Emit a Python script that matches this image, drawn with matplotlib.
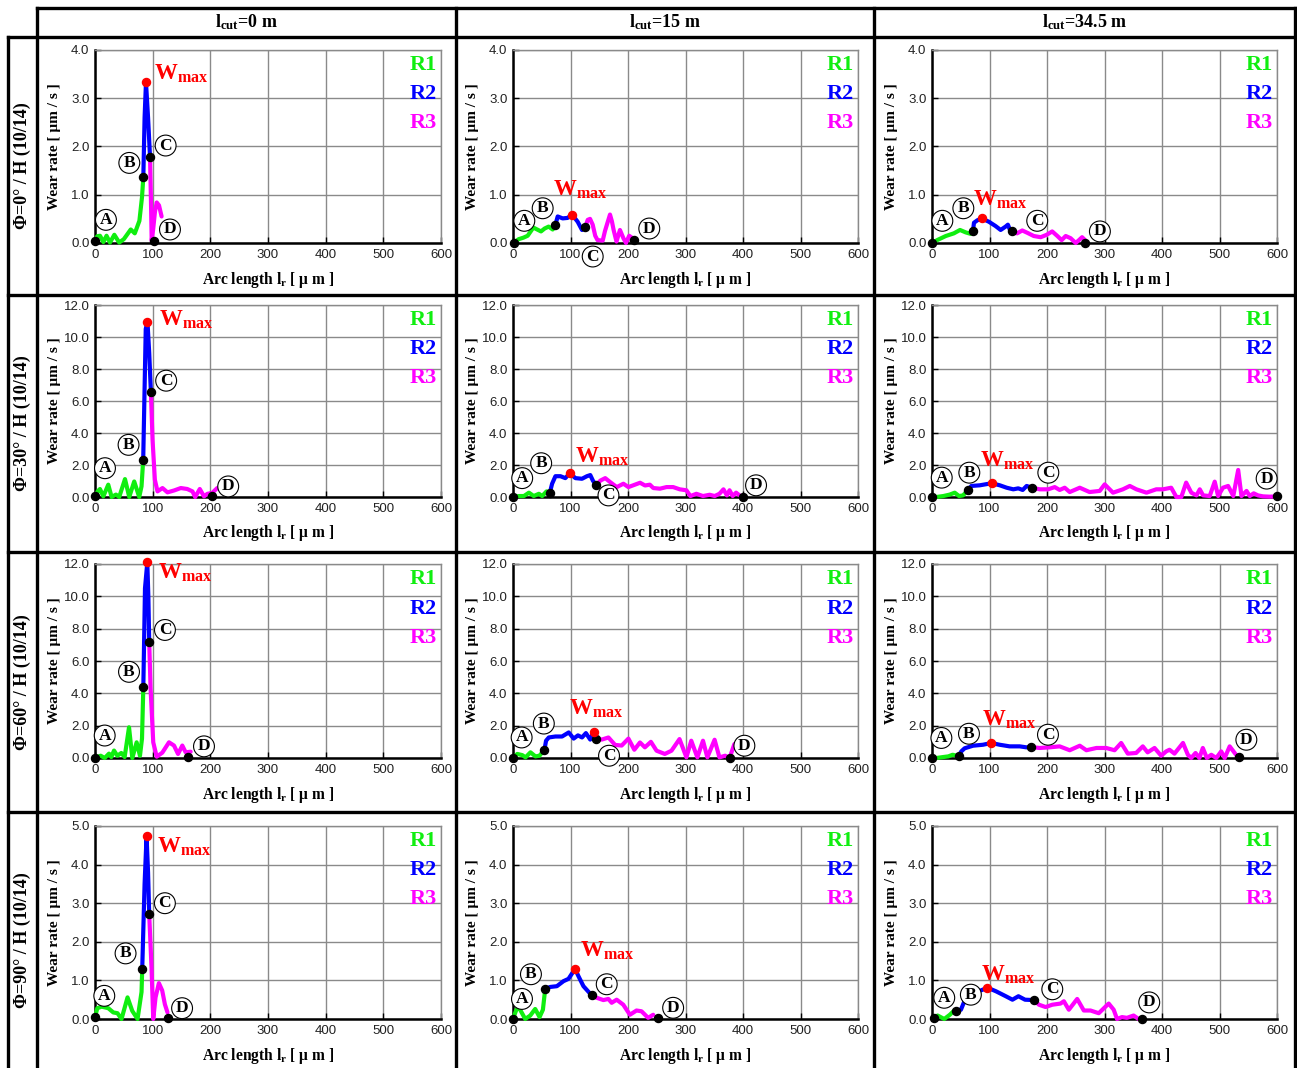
import matplotlib
matplotlib.use("Agg")
import matplotlib.pyplot as plt

plt.rcParams["font.family"] = "Liberation Sans"
plt.rcParams["mathtext.fontset"] = "custom"
plt.rcParams["mathtext.bf"] = "Liberation Serif:bold"
plt.rcParams["mathtext.rm"] = "Liberation Serif"
plt.rcParams["mathtext.it"] = "Liberation Serif:italic"

SERIF = "Liberation Serif"
GREEN = "#10ee10"
BLUE = "#0000ff"
MAGENTA = "#ff00ff"
RED = "#ff0000"
GRID = "#8a8a8a"

PHI_LABELS = ["Φ=0° / H (10/14)", "Φ=30° / H (10/14)",
              "Φ=60° / H (10/14)", "Φ=90° / H (10/14)"]
LCUT_LABELS = [r"l$_{\mathbf{cut}}$=0 m", r"l$_{\mathbf{cut}}$=15 m",
               r"l$_{\mathbf{cut}}$=34.5 m"]
Y_MAX = [4.0, 12.0, 12.0, 5.0]
Y_STEP = [1.0, 2.0, 2.0, 1.0]
X_TICKS = [0, 100, 200, 300, 400, 500, 600]

# wear rate curves (arc length um, wear rate um/s), split into regions R1/R2/R3
# --- phi = 0 deg ---
phi0_lc0_r1 = [(0, 0.05), (4, 0.14), (8.7, 0.15), (14.5, 0.02), (20, 0.15), (26, 0.01),
               (33.5, 0.17), (42, 0.01), (50, 0.08), (62, 0.28), (69, 0.2), (77, 0.46),
               (81.5, 0.95), (83.8, 1.36)]
phi0_lc0_r2 = [(83.8, 1.36), (86, 2.6), (88.4, 3.33), (92, 2.6), (95.4, 1.79)]
phi0_lc0_r3 = [(95.4, 1.79), (97, 0.9), (98.3, 0.05), (101, 0.3), (104, 0.65), (107, 0.84),
               (111, 0.78), (115.5, 0.55)]
phi0_lc0_d = (102, 0.04)

phi0_lc15_r1 = [(2, 0.01), (10, 0.08), (18, 0.11), (25.5, 0.15), (35.4, 0.32), (42, 0.28),
                (48.7, 0.24), (55, 0.3), (62, 0.34), (69, 0.28), (73.6, 0.37)]
phi0_lc15_r2 = [(73.6, 0.37), (77.7, 0.55), (86.4, 0.51), (95, 0.52), (102.6, 0.59),
                (112.5, 0.44), (120, 0.27), (125.8, 0.34)]
phi0_lc15_r3 = [(125.8, 0.34), (130, 0.48), (134, 0.5), (138.6, 0.38), (143, 0.15),
                (147, 0.06), (156, 0.05), (160, 0.25), (168.7, 0.59), (172, 0.45),
                (175, 0.27), (180, 0.03), (186, 0.27), (192, 0.1), (196.5, 0.0),
                (202, 0.15), (208, 0.1)]
phi0_lc15_d = (210, 0.06)

phi0_lc345_r1 = [(0.5, 0.0), (9, 0.06), (24, 0.145), (38, 0.2), (48.7, 0.27), (58.6, 0.22),
                 (67, 0.19), (71.3, 0.25)]
phi0_lc345_r2 = [(71.3, 0.25), (73, 0.42), (78.8, 0.47), (86.4, 0.51), (99, 0.44),
                 (110.7, 0.35), (119.4, 0.27), (128, 0.34), (132, 0.38), (135.6, 0.27),
                 (138.6, 0.24)]
phi0_lc345_r3 = [(138.6, 0.24), (148, 0.2), (157, 0.26), (166, 0.21), (177, 0.145),
                 (189, 0.12), (199.4, 0.17), (209, 0.24), (218, 0.145), (225.5, 0.06),
                 (232.5, 0.145), (241, 0.1), (250, 0.0), (255.6, 0.06), (261, 0.12),
                 (267, 0.05)]
phi0_lc345_d = (265.5, 0.0)

# --- phi = 30 deg ---
phi30_lc0_r1 = [(0.5, 0.05), (4.5, 0.35), (8.6, 0.5), (14.4, 0.04), (23, 0.77), (28.8, 0.0),
                (36.3, 0.15), (42, 0.0), (52, 1.12), (59.4, 0.0), (68, 0.97), (76.7, 0.0),
                (80.7, 0.67), (83.6, 2.33)]
phi30_lc0_r2 = [(83.6, 2.33), (88, 10.5), (91, 10.95), (94, 9.0), (96.9, 6.59)]
phi30_lc0_r3 = [(96.9, 6.59), (99.8, 3.57), (103.8, 1.08), (108.4, 0.35), (117, 0.56),
                (125.7, 0.29), (137.3, 0.41), (148.8, 0.56), (160, 0.5), (169, 0.35),
                (173.8, 0.0), (181.7, 0.5), (189, 0.04), (195, 0.2), (203, 0.25),
                (212, 0.56)]
phi30_lc0_d = (203.6, 0.04)

phi30_lc15_r1 = [(0, 0.0), (10.4, 0.06), (19, 0.06), (27.7, 0.27), (36, 0.06), (45, 0.2),
                 (50.7, 0.06), (58.3, 0.35), (64, 0.25)]
phi30_lc15_r2 = [(64, 0.25), (68, 0.83), (73.8, 1.3), (82.5, 1.3), (91, 1.18), (99, 1.49),
                 (108.5, 1.18), (120, 1.14), (128.6, 1.3), (134.4, 1.37), (139, 1.02),
                 (144.7, 0.72)]
phi30_lc15_r3 = [(144.7, 0.72), (151.7, 1.02), (160.4, 1.18), (169, 0.93), (180.5, 0.62),
                 (192, 0.83), (200.7, 0.62), (212, 0.77), (221, 0.89), (229.6, 0.72),
                 (238, 0.77), (244, 0.56), (255.5, 0.52), (267, 0.62), (278.5, 0.62),
                 (290, 0.48), (301.6, 0.42), (308.5, 0.06), (318.9, 0.2), (330.4, 0.06),
                 (342, 0.14), (350.7, 0.06), (359, 0.2), (366, 0.48), (372, 0.1),
                 (376.6, 0.42), (382, 0.06), (388, 0.27), (394, 0.1)]
phi30_lc15_d = (399.6, 0.0)

phi30_lc345_r1 = [(0, 0.0), (7.5, 0.0), (19.7, 0.06), (30.8, 0.15), (39.5, 0.27), (47, 0.06),
                  (54, 0.1), (62.6, 0.44)]
phi30_lc345_r2 = [(62.6, 0.44), (68.5, 0.69), (83, 0.73), (103.8, 0.86), (118, 0.73),
                  (129.9, 0.58), (141.4, 0.48), (150, 0.54), (157.7, 0.44), (164.6, 0.69),
                  (174, 0.58)]
phi30_lc345_r3 = [(174, 0.58), (187.3, 0.48), (202, 0.48), (213.4, 0.62), (222, 0.44),
                  (230.8, 0.58), (239.5, 0.31), (257, 0.58), (274, 0.31), (291.7, 0.38),
                  (300.3, 0.79), (314.8, 0.27), (332, 0.48), (344, 0.69), (355.5, 0.48),
                  (373, 0.27), (390, 0.48), (401.6, 0.48), (416, 0.58), (425, 0.0),
                  (433.6, 0.0), (442, 0.9), (451, 0.27), (460, 0.1), (465.7, 0.48),
                  (471.5, 0.1), (483, 0.06), (491.7, 0.96), (497.6, 0.06), (506, 0.58),
                  (515, 0.69), (524, 0.06), (532.5, 1.69), (538.2, 0.06), (547, 0.38),
                  (552.6, 0.06), (559.5, 0.23), (567, 0.1), (575.7, 0.04), (587.3, 0.02),
                  (600, 0.04)]
phi30_lc345_d = (600, 0.06)

# --- phi = 60 deg ---
phi60_lc0_r1 = [(0, 0.03), (9.9, 0.14), (16.8, 0.0), (24.3, 0.27), (28.3, 0.06), (33, 0.46),
                (38.7, 0.14), (45.6, 0.31), (51.4, 0.06), (59, 1.9), (64.7, 0.0),
                (72.2, 0.97), (78, 0.14), (81.5, 1.2), (83.8, 4.39)]
phi60_lc0_r2 = [(83.8, 4.39), (86.7, 10.5), (90.7, 12.1), (92.5, 10.0), (94, 7.2)]
phi60_lc0_r3 = [(94, 7.2), (96.4, 4.29), (101, 0.97), (107, 0.08), (116.7, 0.33),
                (128.3, 0.97), (137, 0.77), (144, 0.25), (151.4, 0.77), (157.2, 0.35),
                (165.9, 0.39)]
phi60_lc0_d = (161, 0.04)

phi60_lc15_r1 = [(0, 0.0), (7.4, 0.25), (16, 0.18), (21.8, 0.04), (30.4, 0.35), (39, 0.1),
                 (46, 0.14), (54.7, 0.51)]
phi60_lc15_r2 = [(54.7, 0.51), (57.5, 1.07), (62.3, 1.27), (73.7, 1.33), (85.3, 1.33),
                 (96.9, 1.58), (105.5, 1.2), (113, 1.4), (120, 1.27), (126.8, 1.54),
                 (134.3, 1.14), (140, 1.62), (144.6, 1.2)]
phi60_lc15_r3 = [(144.6, 1.2), (154.5, 1.14), (166, 1.27), (177.5, 0.81), (189, 0.77),
                 (200.7, 1.2), (211, 0.51), (220.8, 0.96), (229.4, 0.66), (239.8, 1.0),
                 (249.7, 0.45), (264, 0.25), (275.6, 0.45), (289.6, 1.17), (301.6, 0.04),
                 (310, 1.07), (320.6, 0.04), (330.4, 1.07), (338, 0.04), (350.6, 1.13),
                 (359, 0.04), (369, 0.14), (376.6, 0.0), (385, 0.86)]
phi60_lc15_d = (376.6, 0.0)

phi60_lc345_r1 = [(0, 0.0), (7.5, 0.0), (19.7, 0.06), (28.4, 0.1), (35.9, 0.2), (42.9, 0.14),
                  (46.4, 0.1)]
phi60_lc345_r2 = [(46.4, 0.1), (51, 0.41), (56.7, 0.6), (71.3, 0.76), (88.7, 0.82),
                  (103.3, 0.93), (117.7, 0.82), (135, 0.72), (152.5, 0.72), (164, 0.66),
                  (171.6, 0.68)]
phi60_lc345_r3 = [(171.6, 0.68), (187.3, 0.62), (204.7, 0.66), (222, 0.72), (239.5, 0.48),
                  (257, 0.76), (268.5, 0.48), (286, 0.62), (303, 0.62), (317.5, 0.48),
                  (329, 0.93), (340.5, 0.27), (355, 0.31), (366.6, 0.72), (375, 0.35),
                  (387, 0.62), (398.6, 0.14), (407.3, 0.41), (413, 0.51), (421.7, 0.27),
                  (436.5, 0.93), (445, 0.2), (450.8, 0.0), (458.3, 0.31), (465, 0.0),
                  (471, 0.62), (478, 0.0), (485.7, 0.2), (494.4, 0.0), (503, 0.41),
                  (509, 0.0), (517.7, 0.72), (526.4, 0.31), (531, 0.1)]
phi60_lc345_d = (533.6, 0.04)

# --- phi = 90 deg ---
phi90_lc0_r1 = [(0, 0.05), (4, 0.28), (11.5, 0.32), (23, 0.28), (31.7, 0.17), (39, 0.15),
                (46, 0.0), (56.4, 0.56), (64.6, 0.21), (73.8, 0.0), (80.7, 0.7),
                (81.9, 1.3)]
phi90_lc0_r2 = [(81.9, 1.3), (86, 3.5), (89.4, 4.73), (92, 3.8), (94, 2.71)]
phi90_lc0_r3 = [(94, 2.71), (98, 1.34), (101, 0.0), (105, 0.56), (110.8, 0.93),
                (116.5, 0.74), (121.2, 0.38), (125.7, 0.17)]
phi90_lc0_d = (126.9, 0.03)

phi90_lc15_r1 = [(0, 0.0), (5.8, 0.24), (9.8, 0.31), (21.3, 0.0), (30, 0.09), (38.6, 0.26),
                 (46.2, 0.05), (52, 0.24), (56, 0.78)]
phi90_lc15_r2 = [(56, 0.78), (64.7, 0.83), (76.3, 0.85), (87.8, 0.98), (96.5, 1.04),
                 (108, 1.3), (113.8, 1.11), (122.5, 0.85), (137, 0.61)]
phi90_lc15_r3 = [(137, 0.61), (145.6, 0.55), (157.2, 0.49), (165.8, 0.52), (171.6, 0.42),
                 (180.3, 0.5), (191.8, 0.37), (203.3, 0.11), (214.8, 0.22), (223.5, 0.2),
                 (235, 0.03), (243.8, 0.11)]
phi90_lc15_d = (251.4, 0.03)

phi90_lc345_r1 = [(4, 0.03), (9.8, 0.09), (21.3, 0.0), (31, 0.11), (38.7, 0.22),
                  (41.6, 0.22)]
phi90_lc345_r2 = [(41.6, 0.22), (50.3, 0.24), (54.4, 0.39), (60.1, 0.59), (70.5, 0.72),
                  (85, 0.74), (96.5, 0.81), (111, 0.72), (128.3, 0.59), (139.9, 0.5),
                  (150.3, 0.59), (161.8, 0.5), (177.4, 0.49)]
phi90_lc345_r3 = [(177.4, 0.49), (186, 0.37), (197.6, 0.31), (209.2, 0.37), (223.5, 0.4),
                  (229.3, 0.46), (238, 0.24), (252.5, 0.52), (264, 0.22), (275.6, 0.22),
                  (290, 0.15), (307.3, 0.4), (316, 0.24), (321.8, 0.0), (330.4, 0.05),
                  (339, 0.03), (350.6, 0.09), (359.3, 0.0)]
phi90_lc345_d = (365, 0.0)

CURVES = [
    [(phi0_lc0_r1, phi0_lc0_r2, phi0_lc0_r3, phi0_lc0_d),
     (phi0_lc15_r1, phi0_lc15_r2, phi0_lc15_r3, phi0_lc15_d),
     (phi0_lc345_r1, phi0_lc345_r2, phi0_lc345_r3, phi0_lc345_d)],
    [(phi30_lc0_r1, phi30_lc0_r2, phi30_lc0_r3, phi30_lc0_d),
     (phi30_lc15_r1, phi30_lc15_r2, phi30_lc15_r3, phi30_lc15_d),
     (phi30_lc345_r1, phi30_lc345_r2, phi30_lc345_r3, phi30_lc345_d)],
    [(phi60_lc0_r1, phi60_lc0_r2, phi60_lc0_r3, phi60_lc0_d),
     (phi60_lc15_r1, phi60_lc15_r2, phi60_lc15_r3, phi60_lc15_d),
     (phi60_lc345_r1, phi60_lc345_r2, phi60_lc345_r3, phi60_lc345_d)],
    [(phi90_lc0_r1, phi90_lc0_r2, phi90_lc0_r3, phi90_lc0_d),
     (phi90_lc15_r1, phi90_lc15_r2, phi90_lc15_r3, phi90_lc15_d),
     (phi90_lc345_r1, phi90_lc345_r2, phi90_lc345_r3, phi90_lc345_d)],
]

# where the circled letters A-D and the W_max tag sit (data coords)
LABEL_POS = [
    [dict(A=(19, 0.48), B=(59.5, 1.66), C=(122.5, 2.02), D=(130, 0.28), W=(102.3, 3.38)),
     dict(A=(19.7, 0.46), B=(51.6, 0.72), C=(138.6, -0.28), D=(237, 0.3), W=(69, 0.98)),
     dict(A=(18, 0.46), B=(54.5, 0.72), C=(183, 0.46), D=(292, 0.24), W=(71.8, 0.77))],
    [dict(A=(17.3, 1.8), B=(58.2, 3.26), C=(123.4, 7.27), D=(231, 0.66), W=(111.3, 10.7)),
     dict(A=(16, 1.18), B=(49, 2.11), C=(166, 0.1), D=(422.7, 0.73), W=(108.5, 2.12)),
     dict(A=(16.9, 1.21), B=(64.9, 1.52), C=(202.3, 1.52), D=(582, 1.15), W=(83.5, 1.89))],
    [dict(A=(16.8, 1.39), B=(59, 5.33), C=(121.3, 7.92), D=(189, 0.72), W=(109, 11.08)),
     dict(A=(15, 1.27), B=(53.6, 2.13), C=(167, 0.14), D=(402.4, 0.76), W=(96.9, 2.66)),
     dict(A=(16.3, 1.24), B=(64.3, 1.5), C=(201.7, 1.44), D=(546.7, 1.13), W=(86.4, 2.01))],
    [dict(A=(16.1, 0.6), B=(53, 1.7), C=(121.2, 3.0), D=(151, 0.28), W=(106.7, 4.3)),
     dict(A=(15.6, 0.52), B=(31.2, 1.16), C=(163, 0.9), D=(278.5, 0.29), W=(116.3, 1.61)),
     dict(A=(21.3, 0.55), B=(67.6, 0.63), C=(209.2, 0.77), D=(377.8, 0.43), W=(85, 1.0))],
]

# page layout in pixels
W_PX, H_PX = 1297, 1068
COL_AX = [(95, 441), (513, 858), (932, 1277)]
ROW_AX = [(50, 243), (305, 497), (564, 758), (826, 1019)]
COL_CENTERS = [246.5, 665, 1084.5]
ROW_CENTERS = [166, 423.5, 682, 940]


def circled(ax, xy, letter):
    ax.text(xy[0], xy[1], letter, ha="center", va="center", fontsize=12.5,
            family=SERIF, weight="bold", zorder=6, clip_on=False,
            bbox=dict(boxstyle="circle,pad=0.14", fc="white", ec="black", lw=0.8))


def draw_panel(ax, curves, labels, ymax, ystep):
    r1, r2, r3, d_pt = curves
    for seg, col in ((r1, GREEN), (r2, BLUE), (r3, MAGENTA)):
        xs, ys = zip(*seg)
        ax.plot(xs, ys, color=col, lw=3.0, solid_capstyle="round",
                solid_joinstyle="round", zorder=3, clip_on=False)

    # A, B, C, D markers
    keys = [r1[0], r1[-1], r2[-1], d_pt]
    kx, ky = zip(*keys)
    ax.plot(kx, ky, "o", color="black", ms=5.8, zorder=5, clip_on=False)
    wmax = max(r2, key=lambda p: p[1])
    ax.plot(wmax[0], wmax[1], "o", color=RED, ms=5.8, zorder=5, clip_on=False)

    for letter in "ABCD":
        circled(ax, labels[letter], letter)
    wx, wy = labels["W"]
    ax.text(wx, wy, r"W$_{\mathbf{max}}$", color=RED, fontsize=16.5, family=SERIF,
            weight="bold", ha="left", va="baseline", zorder=6)

    # region legend
    for yf, txt, col in ((0.922, "R1", GREEN), (0.77, "R2", BLUE), (0.62, "R3", MAGENTA)):
        ax.text(0.988, yf, txt, transform=ax.transAxes, ha="right", va="center",
                color=col, fontsize=16, family=SERIF, weight="bold")

    ax.set_xlim(0, 600)
    ax.set_ylim(0, ymax)
    ax.set_xticks(X_TICKS)
    n = int(round(ymax / ystep))
    ax.set_yticks([i * ystep for i in range(n + 1)])
    ax.set_yticklabels([f"{i * ystep:.1f}" for i in range(n + 1)])
    ax.grid(True, color=GRID, lw=1.0)
    ax.set_axisbelow(True)
    for side in ("left", "bottom"):
        ax.spines[side].set_color("black")
        ax.spines[side].set_linewidth(1.8)
    for side in ("top", "right"):
        ax.spines[side].set_color(GRID)
        ax.spines[side].set_linewidth(1.0)
    ax.tick_params(direction="in", length=4, width=1, color="black",
                   labelsize=9.5, labelcolor="#222222", pad=4)

    ax.text(-0.116, 0.5, "Wear rate [ μm / s ]", transform=ax.transAxes, rotation=90,
            ha="center", va="center", fontsize=11, family=SERIF, weight="bold")
    ax.text(0.5, -0.19, r"Arc length l$_{\mathbf{r}}$ [ μ m ]", transform=ax.transAxes,
            ha="center", va="center", fontsize=11.2, family=SERIF, weight="bold")


fig = plt.figure(figsize=(W_PX / 100, H_PX / 100), dpi=100)

for i, (top, bot) in enumerate(ROW_AX):
    for j, (left, right) in enumerate(COL_AX):
        ax = fig.add_axes([left / W_PX, 1 - bot / H_PX,
                           (right - left) / W_PX, (bot - top) / H_PX])
        draw_panel(ax, CURVES[i][j], LABEL_POS[i][j], Y_MAX[i], Y_STEP[i])

# table frame drawn in pixel coordinates on top of everything
tab = fig.add_axes([0, 0, 1, 1], zorder=10)
tab.set_xlim(0, W_PX)
tab.set_ylim(H_PX, 0)
tab.axis("off")

h_lines = [(37, 1297, 8), (8, 1297, 37), (8, 1297, 295), (8, 1297, 552), (8, 1297, 812)]
v_lines = [(8, 37, 1068), (37, 8, 1068), (456, 8, 1068), (874, 8, 1068), (1295, 8, 1068)]
for x0, x1, y in h_lines:
    tab.plot([x0, x1], [y, y], color="black", lw=2.4, solid_capstyle="projecting")
for x, y0, y1 in v_lines:
    tab.plot([x, x], [y0, y1], color="black", lw=2.4, solid_capstyle="projecting")

for cx, txt in zip(COL_CENTERS, LCUT_LABELS):
    tab.text(cx, 22, txt, ha="center", va="center", fontsize=13, family=SERIF,
             weight="bold")
for cy, txt in zip(ROW_CENTERS, PHI_LABELS):
    tab.text(22, cy, txt, ha="center", va="center", rotation=90, fontsize=13,
             family=SERIF, weight="bold")

fig.savefig("out.png", dpi=100)
